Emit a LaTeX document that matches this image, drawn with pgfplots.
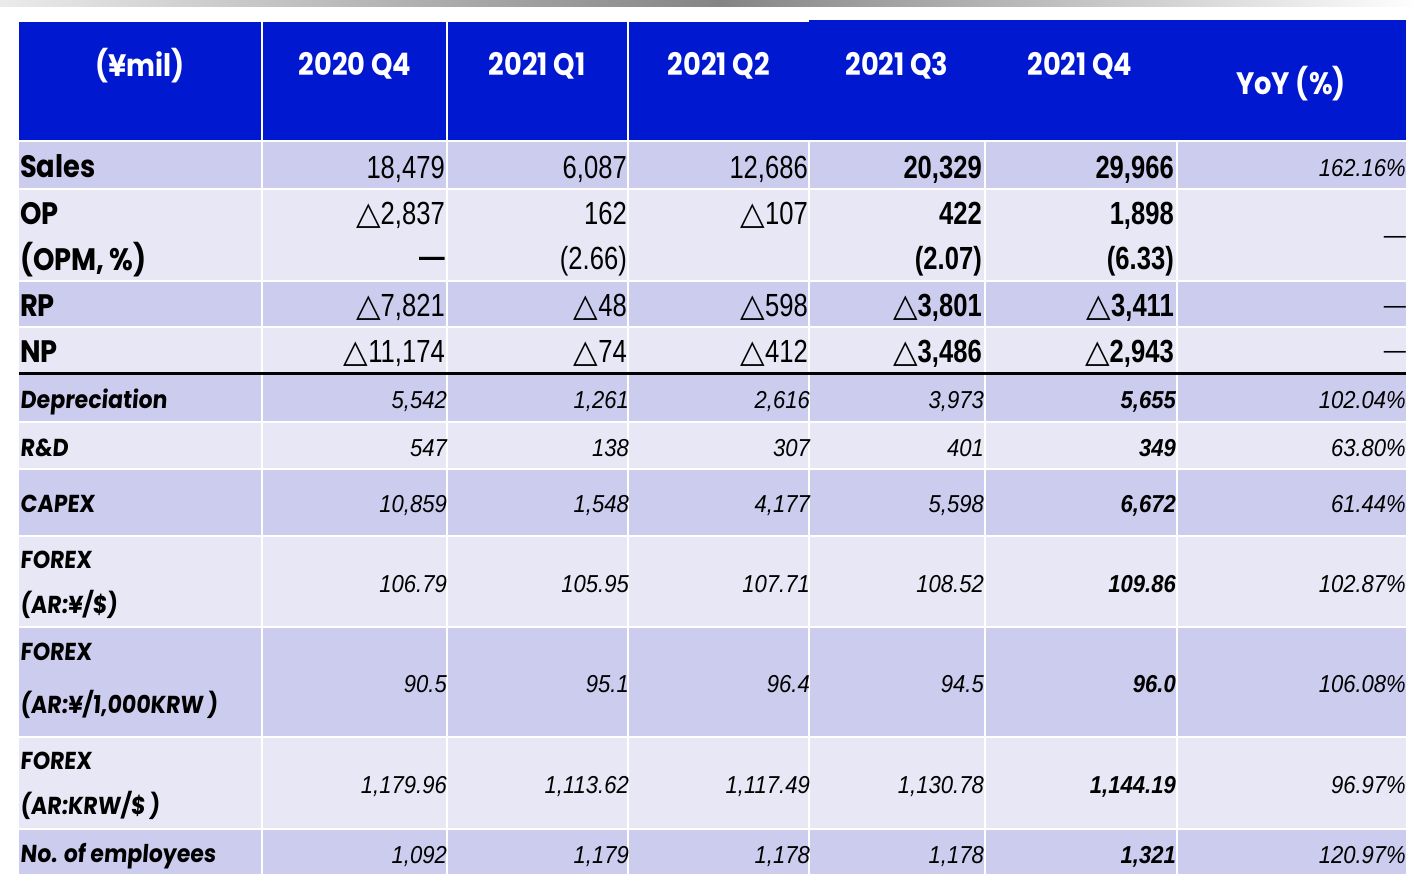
\documentclass[border=0pt]{standalone}
\usepackage{pgfplots}
\pgfplotsset{compat=1.18}
\usepackage{fontspec}
\setmainfont{Poppins}
\newfontfamily\labfont[FakeStretch=0.88]{Poppins}
\newfontfamily\lablfont[FakeStretch=0.9,FakeSlant=0.08]{Poppins}
\newfontfamily\numfont[FakeStretch=0.8]{Liberation Sans}
\newfontfamily\inumfont[FakeStretch=0.9]{Liberation Sans}
\newfontfamily\symfont{DejaVu Sans}
\protected\def\tri{{\symfont △}}
\protected\def\btri{{\symfont\bfseries △}}
\definecolor{hdr}{RGB}{0,24,208}
\definecolor{dk}{RGB}{204,204,238}
\definecolor{lt}{RGB}{231,231,245}
\pgfplotsset{
  txtbase/.style={draw=none, point meta=explicit symbolic,
    nodes near coords={\pgfplotspointmeta}},
  valR/.style={txtbase, every node near coord/.append style={anchor=base east, inner sep=0pt,
    font=\numfont\fontsize{32}{36}\selectfont}},
  valRb/.style={txtbase, every node near coord/.append style={anchor=base east, inner sep=0pt,
    font=\numfont\fontsize{32}{36}\selectfont\bfseries}},
  valI/.style={txtbase, every node near coord/.append style={anchor=base east, inner sep=0pt,
    font=\inumfont\fontsize{24.5}{28}\selectfont\itshape}},
  valIb/.style={txtbase, every node near coord/.append style={anchor=base east, inner sep=0pt,
    font=\inumfont\fontsize{24.5}{28}\selectfont\itshape\bfseries}},
  labT/.style={txtbase, every node near coord/.append style={anchor=base west, inner sep=0pt,
    font=\labfont\fontsize{31}{34}\selectfont\bfseries}},
  labL/.style={txtbase, every node near coord/.append style={anchor=base west, inner sep=0pt,
    font=\lablfont\fontsize{24.5}{28}\selectfont\bfseries}},
  hdrT/.style={txtbase, every node near coord/.append style={anchor=base, inner sep=0pt,
    text=white, font=\labfont\fontsize{31}{34}\selectfont\bfseries}},
  cell/.style={draw=none, fill=#1},
}
\begin{document}
\begin{tikzpicture}
\begin{axis}[
  width=1419pt, height=883pt, scale only axis,
  xmin=0, xmax=1419, ymin=0, ymax=883, y dir=reverse,
  hide axis, clip=false,
]
% page background
\addplot[cell=white] coordinates {(0,0) (1419,0) (1419,883) (0,883)} -- cycle;
% top gradient strip
\addplot[draw=none, left color=black!8, right color=black!48] coordinates {(0,0) (720,0) (720,7) (0,7)} -- cycle;
\addplot[draw=none, left color=black!48, right color=white] coordinates {(720,0) (1419,0) (1419,7) (720,7)} -- cycle;
% header
\addplot[cell=hdr] coordinates {(19,22) (809,22) (809,140) (19,140)} -- cycle;
\addplot[cell=hdr] coordinates {(809,20) (1406,20) (1406,140) (809,140)} -- cycle;
% body rows
\addplot[cell=dk] coordinates {(19,142) (1406,142) (1406,188) (19,188)} -- cycle;
\addplot[cell=lt] coordinates {(19,190) (1406,190) (1406,280) (19,280)} -- cycle;
\addplot[cell=dk] coordinates {(19,282) (1406,282) (1406,326) (19,326)} -- cycle;
\addplot[cell=lt] coordinates {(19,328) (1406,328) (1406,373) (19,373)} -- cycle;
\addplot[cell=dk] coordinates {(19,375) (1406,375) (1406,421) (19,421)} -- cycle;
\addplot[cell=lt] coordinates {(19,423) (1406,423) (1406,468) (19,468)} -- cycle;
\addplot[cell=dk] coordinates {(19,470) (1406,470) (1406,535) (19,535)} -- cycle;
\addplot[cell=lt] coordinates {(19,537) (1406,537) (1406,626) (19,626)} -- cycle;
\addplot[cell=dk] coordinates {(19,628) (1406,628) (1406,736) (19,736)} -- cycle;
\addplot[cell=lt] coordinates {(19,738) (1406,738) (1406,828) (19,828)} -- cycle;
\addplot[cell=dk] coordinates {(19,830) (1406,830) (1406,874) (19,874)} -- cycle;
% separators
\addplot[white, line width=2pt] coordinates {(262,22) (262,874)};
\addplot[white, line width=2pt] coordinates {(447,22) (447,874)};
\addplot[white, line width=2pt] coordinates {(628,22) (628,874)};
\addplot[white, line width=2pt] coordinates {(809,141) (809,874)};
\addplot[white, line width=2pt] coordinates {(985,141) (985,874)};
\addplot[white, line width=2pt] coordinates {(1177,141) (1177,874)};
\addplot[black, line width=2.5pt] coordinates {(19,373.5) (1406,373.5)};
% header text
\addplot[hdrT] coordinates {(140,77) [(¥mil)] (355,76) [2020 Q4] (537,76) [2021 Q1]
  (719,76) [2021 Q2] (897,76) [2021 Q3] (1080,76) [2021 Q4] (1291,95) [YoY (\%)]};
% row labels
\addplot[labT] coordinates {(20,177) [Sales] (20,224) [OP] (20,270) [(OPM,\,\%)]
  (20,316) [RP] (20,362) [NP]};
\addplot[labL] coordinates {(20,408) [Depreciation] (20,456) [R\&D] (20,512) [CAPEX]
  (20,568) [FOREX] (20,613) [(AR:¥/\$)] (20,660) [FOREX] (20,713) [(AR:¥/1,000KRW\,)]
  (20,769) [FOREX] (20,814) [(AR:KRW/\$\,)] (20,862) [No. of employees]};
% Sales
\addplot[valR] coordinates {(445,178) [18,479] (627,178) [6,087] (808,178) [12,686]};
\addplot[valRb] coordinates {(982,178) [20,329] (1174,178) [29,966]};
\addplot[valI] coordinates {(1406,176) [162.16\%]};
% OP
\addplot[valR] coordinates {(445,224) [\tri2,837] (627,224) [162] (808,224) [\tri107]};
\addplot[valRb] coordinates {(982,224) [422] (1174,224) [1,898]};
\addplot[valI] coordinates {(1406,243) [\upshape —]};
% OPM
\addplot[valRb] coordinates {(445,267) [—]};
\addplot[valR] coordinates {(627,269) [(2.66)]};
\addplot[valRb] coordinates {(982,269) [(2.07)] (1174,269) [(6.33)]};
% RP
\addplot[valR] coordinates {(445,316) [\tri7,821] (627,316) [\tri48] (808,316) [\tri598]};
\addplot[valRb] coordinates {(982,316) [\btri3,801] (1174,316) [\btri3,411]};
\addplot[valI] coordinates {(1406,313) [\upshape —]};
% NP
\addplot[valR] coordinates {(445,362) [\tri11,174] (627,362) [\tri74] (808,362) [\tri412]};
\addplot[valRb] coordinates {(982,362) [\btri3,486] (1174,362) [\btri2,943]};
\addplot[valI] coordinates {(1406,358) [\upshape —]};
% Depreciation
\addplot[valI] coordinates {(447,408) [5,542] (629,408) [1,261] (810,408) [2,616] (984,408) [3,973] (1406,408) [102.04\%]};
\addplot[valIb] coordinates {(1176,408) [5,655]};
% R&D
\addplot[valI] coordinates {(447,456) [547] (629,456) [138] (810,456) [307] (984,456) [401] (1406,456) [63.80\%]};
\addplot[valIb] coordinates {(1176,456) [349]};
% CAPEX
\addplot[valI] coordinates {(447,512) [10,859] (629,512) [1,548] (810,512) [4,177] (984,512) [5,598] (1406,512) [61.44\%]};
\addplot[valIb] coordinates {(1176,512) [6,672]};
% FOREX yen/$
\addplot[valI] coordinates {(447,592) [106.79] (629,592) [105.95] (810,592) [107.71] (984,592) [108.52] (1406,592) [102.87\%]};
\addplot[valIb] coordinates {(1176,592) [109.86]};
% FOREX yen/1000KRW
\addplot[valI] coordinates {(447,692) [90.5] (629,692) [95.1] (810,692) [96.4] (984,692) [94.5] (1406,692) [106.08\%]};
\addplot[valIb] coordinates {(1176,692) [96.0]};
% FOREX KRW/$
\addplot[valI] coordinates {(447,793) [1,179.96] (629,793) [1,113.62] (810,793) [1,117.49] (984,793) [1,130.78] (1406,793) [96.97\%]};
\addplot[valIb] coordinates {(1176,793) [1,144.19]};
% employees
\addplot[valI] coordinates {(447,863) [1,092] (629,863) [1,179] (810,863) [1,178] (984,863) [1,178] (1406,863) [120.97\%]};
\addplot[valIb] coordinates {(1176,863) [1,321]};
\end{axis}
\end{tikzpicture}
\end{document}
